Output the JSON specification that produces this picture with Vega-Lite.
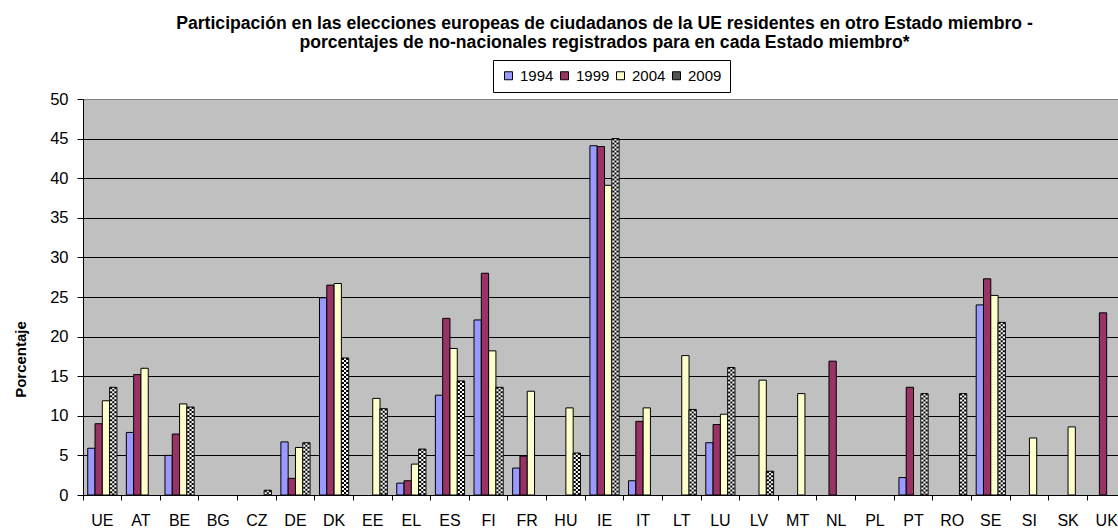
{
  "$schema": "https://vega.github.io/schema/vega-lite/v6.json",
  "width": 1035,
  "height": 396,
  "autosize": {"type": "none"},
  "padding": {"left": 83, "top": 99, "right": 0, "bottom": 33},
  "background": "white",
  "config": {
    "font": "Liberation Sans",
    "view": {"fill": "#C0C0C0", "stroke": "#808080", "strokeWidth": 1}
  },
  "title": {
    "text": [
      "Participación en las elecciones europeas de ciudadanos de la UE residentes en otro Estado miembro -",
      "porcentajes de no-nacionales registrados para en cada Estado miembro*"
    ],
    "fontSize": 17.6,
    "fontWeight": "bold",
    "font": "Liberation Sans",
    "color": "black",
    "lineHeight": 19,
    "anchor": "middle",
    "dx": 4,
    "offset": 8
  },
  "data": {
    "values": [
      {"c": "UE", "yr": "1994", "v": 5.9}, {"c": "UE", "yr": "1999", "v": 9.0}, {"c": "UE", "yr": "2004", "v": 11.9}, {"c": "UE", "yr": "2009", "v": 13.6},
      {"c": "AT", "yr": "1994", "v": 7.9}, {"c": "AT", "yr": "1999", "v": 15.2}, {"c": "AT", "yr": "2004", "v": 16.0},
      {"c": "BE", "yr": "1994", "v": 5.0}, {"c": "BE", "yr": "1999", "v": 7.7}, {"c": "BE", "yr": "2004", "v": 11.5}, {"c": "BE", "yr": "2009", "v": 11.1},
      {"c": "CZ", "yr": "2009", "v": 0.6},
      {"c": "DE", "yr": "1994", "v": 6.7}, {"c": "DE", "yr": "1999", "v": 2.1}, {"c": "DE", "yr": "2004", "v": 6.0}, {"c": "DE", "yr": "2009", "v": 6.6},
      {"c": "DK", "yr": "1994", "v": 24.9}, {"c": "DK", "yr": "1999", "v": 26.5}, {"c": "DK", "yr": "2004", "v": 26.7}, {"c": "DK", "yr": "2009", "v": 17.3},
      {"c": "EE", "yr": "2004", "v": 12.2}, {"c": "EE", "yr": "2009", "v": 10.9},
      {"c": "EL", "yr": "1994", "v": 1.5}, {"c": "EL", "yr": "1999", "v": 1.8}, {"c": "EL", "yr": "2004", "v": 3.9}, {"c": "EL", "yr": "2009", "v": 5.8},
      {"c": "ES", "yr": "1994", "v": 12.6}, {"c": "ES", "yr": "1999", "v": 22.3}, {"c": "ES", "yr": "2004", "v": 18.5}, {"c": "ES", "yr": "2009", "v": 14.4},
      {"c": "FI", "yr": "1994", "v": 22.1}, {"c": "FI", "yr": "1999", "v": 28.0}, {"c": "FI", "yr": "2004", "v": 18.2}, {"c": "FI", "yr": "2009", "v": 13.6},
      {"c": "FR", "yr": "1994", "v": 3.4}, {"c": "FR", "yr": "1999", "v": 4.9}, {"c": "FR", "yr": "2004", "v": 13.1},
      {"c": "HU", "yr": "2004", "v": 11.0}, {"c": "HU", "yr": "2009", "v": 5.3},
      {"c": "IE", "yr": "1994", "v": 44.1}, {"c": "IE", "yr": "1999", "v": 44.0}, {"c": "IE", "yr": "2004", "v": 39.1}, {"c": "IE", "yr": "2009", "v": 45.0},
      {"c": "IT", "yr": "1994", "v": 1.8}, {"c": "IT", "yr": "1999", "v": 9.3}, {"c": "IT", "yr": "2004", "v": 11.0},
      {"c": "LT", "yr": "2004", "v": 17.6}, {"c": "LT", "yr": "2009", "v": 10.8},
      {"c": "LU", "yr": "1994", "v": 6.6}, {"c": "LU", "yr": "1999", "v": 8.9}, {"c": "LU", "yr": "2004", "v": 10.2}, {"c": "LU", "yr": "2009", "v": 16.1},
      {"c": "LV", "yr": "2004", "v": 14.5}, {"c": "LV", "yr": "2009", "v": 3.0},
      {"c": "MT", "yr": "2004", "v": 12.8},
      {"c": "NL", "yr": "1999", "v": 16.9},
      {"c": "PT", "yr": "1994", "v": 2.2}, {"c": "PT", "yr": "1999", "v": 13.6}, {"c": "PT", "yr": "2009", "v": 12.8},
      {"c": "RO", "yr": "2009", "v": 12.8},
      {"c": "SE", "yr": "1994", "v": 24.0}, {"c": "SE", "yr": "1999", "v": 27.3}, {"c": "SE", "yr": "2004", "v": 25.2}, {"c": "SE", "yr": "2009", "v": 21.8},
      {"c": "SI", "yr": "2004", "v": 7.2},
      {"c": "SK", "yr": "2004", "v": 8.6},
      {"c": "UK", "yr": "1999", "v": 23.0}
    ]
  },
  "encoding": {
    "x": {
      "field": "c", "type": "nominal", "sort": null,
      "scale": {
        "domain": ["UE","AT","BE","BG","CZ","DE","DK","EE","EL","ES","FI","FR","HU","IE","IT","LT","LU","LV","MT","NL","PL","PT","RO","SE","SI","SK","UK"],
        "paddingInner": 0, "paddingOuter": 0, "rangeMax": 1043
      },
      "axis": {
        "title": null, "bandPosition": 0, "tickSize": 5, "tickColor": "black",
        "domainColor": "black", "labelFontSize": 16, "labelColor": "black", "labelPadding": 12,
        "labelAngle": 0, "grid": false, "labelFont": "Liberation Sans"
      }
    },
    "y": {
      "field": "v", "type": "quantitative",
      "scale": {"domain": [0, 50], "nice": false},
      "axis": {
        "title": "Porcentaje", "values": [0,5,10,15,20,25,30,35,40,45,50],
        "tickSize": 6, "tickColor": "black", "domainColor": "black",
        "labelFontSize": 16.5, "labelPadding": 9, "labelColor": "black", "labelFont": "Liberation Sans",
        "grid": true,
        "gridColor": {"condition": {"test": "datum.value === 50", "value": "#808080"}, "value": "black"},
        "gridOpacity": 1,
        "titleFontSize": 15, "titleFontWeight": "bold", "titleColor": "black", "titleFont": "Liberation Sans",
        "titleX": -63, "titleY": 260, "titleAngle": 270, "titleAlign": "center", "titleBaseline": "middle"
      }
    }
  },
  "resolve": {"scale": {"xOffset": "independent"}},
  "layer": [
    {
      "mark": {"type": "bar", "stroke": "black", "strokeWidth": 1, "opacity": 1},
      "encoding": {
        "xOffset": {
          "field": "yr", "type": "nominal",
          "scale": {"domain": ["1994","1999","2004","2009"], "paddingInner": 0, "paddingOuter": 0.647, "range": [0, 38.63]}
        },
        "fill": {
          "condition": {"test": "datum.yr === '2009'", "value": "#FFFFFF"},
          "field": "yr", "type": "nominal",
          "scale": {"domain": ["1994","1999","2004","2009"], "range": ["#9999FF","#993366","#FFFFCC","#555555"]},
          "legend": {
            "orient": "none", "legendX": 410, "legendY": -39, "direction": "horizontal", "title": null,
            "symbolType": "square", "symbolSize": 64, "symbolStrokeColor": "black", "symbolStrokeWidth": 1,
            "symbolOpacity": 1,
            "labelFontSize": 15, "labelColor": "black", "labelFont": "Liberation Sans", "labelOffset": 4,
            "columnPadding": 3, "strokeColor": "black", "padding": 8, "fillColor": "white",
            "encode": {
              "symbols": {"update": {"stroke": {"value": "black"}, "strokeWidth": {"value": 1}, "opacity": {"value": 1}}}
            }
          }
        }
      }
    },
    {
      "transform": [{"filter": "datum.yr === '2009'"}],
      "mark": {"type": "rule", "color": "black", "strokeWidth": 2.1, "strokeDash": [2, 2]},
      "encoding": {
        "xOffset": {
          "field": "yr", "type": "nominal",
          "scale": {"domain": ["1994","1999","2004","2009"], "paddingInner": 0, "paddingOuter": 0.647, "range": [-2.1, 36.53]}
        },
        "y2": {"datum": 0}
      }
    },
    {
      "transform": [{"filter": "datum.yr === '2009'"}],
      "mark": {"type": "rule", "color": "black", "strokeWidth": 2.1, "strokeDash": [2, 2], "strokeDashOffset": 2},
      "encoding": {
        "xOffset": {
          "field": "yr", "type": "nominal",
          "scale": {"domain": ["1994","1999","2004","2009"], "paddingInner": 0, "paddingOuter": 0.647, "range": [0, 38.63]}
        },
        "y2": {"datum": 0}
      }
    },
    {
      "transform": [{"filter": "datum.yr === '2009'"}],
      "mark": {"type": "rule", "color": "black", "strokeWidth": 2.1, "strokeDash": [2, 2]},
      "encoding": {
        "xOffset": {
          "field": "yr", "type": "nominal",
          "scale": {"domain": ["1994","1999","2004","2009"], "paddingInner": 0, "paddingOuter": 0.647, "range": [2.1, 40.73]}
        },
        "y2": {"datum": 0}
      }
    }
  ]
}
